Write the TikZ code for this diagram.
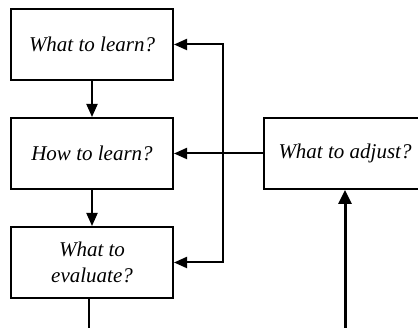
\documentclass[tikz,border=0pt]{standalone}
\usepackage{fontspec}
\setmainfont{Liberation Serif}
\usetikzlibrary{arrows.meta}
\begin{document}
\begin{tikzpicture}[x=1pt,y=1pt,
  qbox/.style={draw, line width=2pt, minimum width=162pt, minimum height=71pt,
    inner sep=0pt, align=center, font=\fontsize{21}{26}\selectfont\itshape},
  conn/.style={line width=2pt, -{Triangle[length=13pt,width=11pt]}},
  thick conn/.style={line width=3pt, -{Triangle[length=14pt,width=13pt]}}]
\useasboundingbox (0,0) rectangle (418,328);
\node[qbox] (learn) at (92,283.5) {What to learn?};
\node[qbox] (how) at (92,174.5) {How to learn?};
\node[qbox] (eval) at (92,65.5) {What to\\evaluate?};
\node[qbox] (adjust) at (345,174.5) {What to adjust?};
\coordinate (j) at (223,174.5);
\coordinate (b1) at (89,0);
\coordinate (b2) at (345,0);
\draw[conn] (learn) -- (how);
\draw[conn] (how) -- (eval);
\draw[conn] (adjust) -- (how);
\draw[conn] (j) |- (learn.east);
\draw[conn] (j) |- (eval.east);
\draw[line width=2pt] (b1 |- eval.south) -- (b1);
\draw[thick conn] (b2) -- (b2 |- adjust.south);
\end{tikzpicture}
\end{document}
